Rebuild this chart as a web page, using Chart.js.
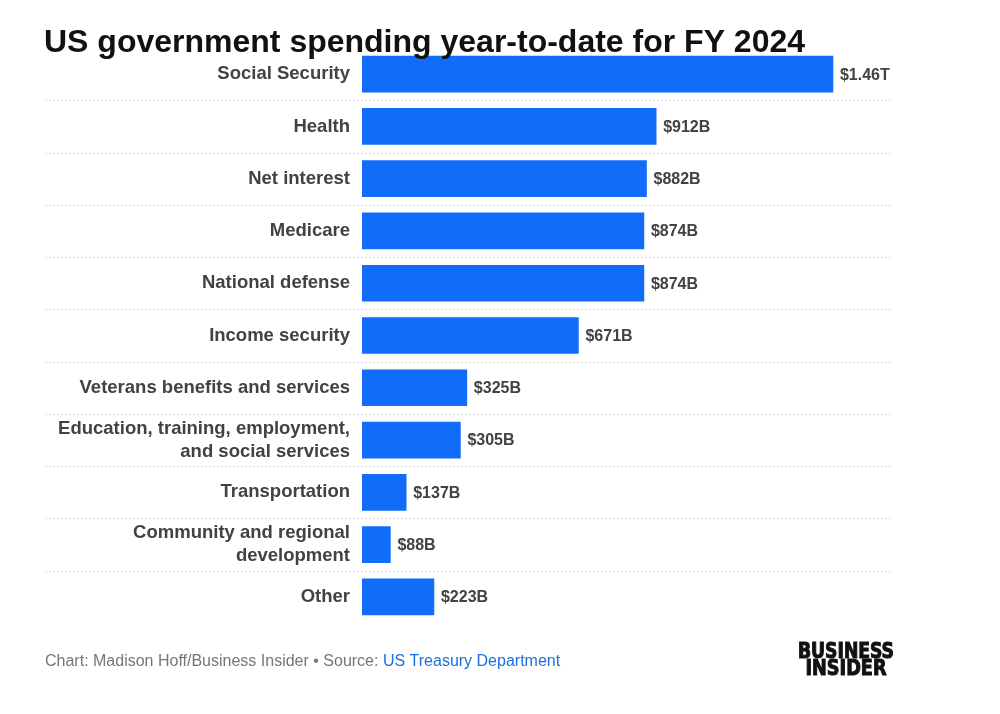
<!DOCTYPE html>
<html>
<head>
<meta charset="utf-8">
<script src="https://cdn.jsdelivr.net/npm/chart.js@4"></script>
<style>
    html, body { margin: 0; padding: 0; background: #fff; }
    #wrap { width: 1000px; height: 714px; position: relative; }
</style>
</head>
<body>
<div id="wrap"><canvas id="spending"></canvas></div>
<script>
const categories = [
    'Social Security',
    'Health',
    'Net interest',
    'Medicare',
    'National defense',
    'Income security',
    'Veterans benefits and services',
    ['Education, training, employment,', 'and social services'],
    'Transportation',
    ['Community and regional', 'development'],
    'Other'
];
// billions of dollars
const spending = [1460, 912, 882, 874, 874, 671, 325, 305, 137, 88, 223];

const titleText = 'US government spending year-to-date for FY 2024';
const creditText = 'Chart: Madison Hoff/Business Insider \u2022 Source: ';
const sourceText = 'US Treasury Department';

const barColor = '#126cfa';
const labelColor = '#424242';
const LEFT = 45;

function fmt(v) {
    if (v >= 1000) return '$' + (v / 1000).toFixed(2) + 'T';
    return '$' + v + 'B';
}

// dotted separators between rows, running under the labels too
const rowLines = {
    id: 'rowLines',
    beforeDatasetsDraw(chart) {
        const y = chart.scales.y;
        const ctx = chart.ctx;
        ctx.save();
        ctx.strokeStyle = '#d9d9d9';
        ctx.lineWidth = 1;
        ctx.setLineDash([2, 2]);
        for (let i = 0; i < categories.length - 1; i++) {
            const py = Math.round((y.getPixelForValue(i) + y.getPixelForValue(i + 1)) / 2) + 0.5;
            ctx.beginPath();
            ctx.moveTo(LEFT, py);
            ctx.lineTo(chart.chartArea.right + 2, py);
            ctx.stroke();
        }
        ctx.restore();
    }
};

function fitText(ctx, text, cx, y, w) {
    const m = ctx.measureText(text).width;
    ctx.save();
    ctx.translate(cx, y);
    ctx.scale(w / m, 1);
    ctx.fillText(text, 0, 0);
    ctx.strokeText(text, 0, 0);
    ctx.restore();
}

// value labels, title, footer and logo
const extras = {
    id: 'extras',
    afterDatasetsDraw(chart) {
        const ctx = chart.ctx;
        const meta = chart.getDatasetMeta(0);
        ctx.save();
        ctx.font = 'bold 16px "Liberation Sans", Arial, sans-serif';
        ctx.fillStyle = labelColor;
        ctx.textBaseline = 'middle';
        ctx.textAlign = 'left';
        meta.data.forEach((bar, i) => {
            ctx.fillText(fmt(spending[i]), bar.x + 7, bar.y + 1);
        });

        ctx.fillStyle = '#111';
        ctx.font = 'bold 32px "Liberation Sans", Arial, sans-serif';
        ctx.textBaseline = 'alphabetic';
        ctx.fillText(titleText, LEFT - 1, 52);

        ctx.font = '16px "Liberation Sans", Arial, sans-serif';
        ctx.fillStyle = '#767676';
        ctx.fillText(creditText, LEFT, 666);
        const w = ctx.measureText(creditText).width;
        ctx.fillStyle = '#1a6fe0';
        ctx.fillText(sourceText, LEFT + w, 666);

        // logo wordmark
        ctx.fillStyle = '#111';
        ctx.strokeStyle = '#111';
        ctx.lineWidth = 1;
        ctx.font = 'bold 22px "DejaVu Sans Condensed", "Liberation Sans Narrow", sans-serif';
        ctx.textAlign = 'center';
        fitText(ctx, 'BUSINESS', 846, 658, 96);
        fitText(ctx, 'INSIDER', 846, 675, 81);
        ctx.restore();
    }
};

new Chart(document.getElementById('spending'), {
    type: 'bar',
    data: {
        labels: categories,
        datasets: [{
            data: spending,
            backgroundColor: barColor,
            borderWidth: 0,
            barThickness: 36,
            categoryPercentage: 1,
        }]
    },
    options: {
        indexAxis: 'y',
        responsive: true,
        maintainAspectRatio: false,
        animation: false,
        layout: {
            padding: { top: 48, bottom: 91, left: LEFT, right: 109 }
        },
        plugins: {
            legend: { display: false },
            title: { display: false },
            tooltip: { enabled: false },
        },
        scales: {
            x: {
                display: false,
                min: 0,
                max: 1640,
            },
            y: {
                grid: { display: false, drawTicks: false },
                border: { display: false },
                ticks: {
                    color: labelColor,
                    padding: 12,
                    font: { family: '"Liberation Sans", Arial, sans-serif', size: 18.5, weight: 'bold', lineHeight: 1.25 },
                },
                afterFit(scale) {
                    scale.width = 362 - LEFT;
                }
            }
        }
    },
    plugins: [rowLines, extras]
});
</script>
</body>
</html>
